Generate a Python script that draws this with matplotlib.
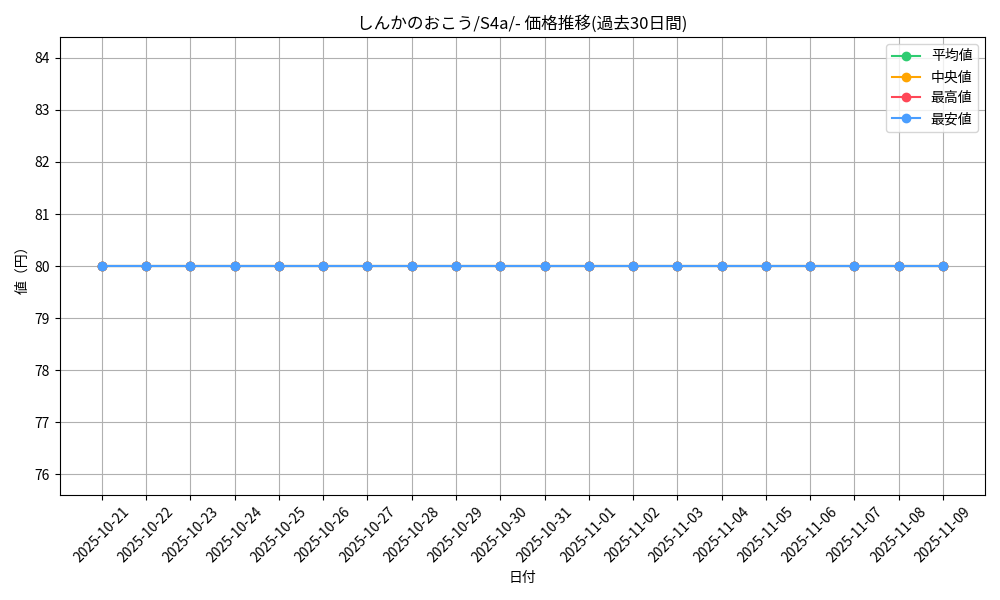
import matplotlib
matplotlib.use('Agg')
import matplotlib.pyplot as plt

plt.rcParams['font.family'] = ['Noto Sans CJK JP', 'DejaVu Sans']

# data
dates = ['2025-10-21', '2025-10-22', '2025-10-23', '2025-10-24', '2025-10-25',
         '2025-10-26', '2025-10-27', '2025-10-28', '2025-10-29', '2025-10-30',
         '2025-10-31', '2025-11-01', '2025-11-02', '2025-11-03', '2025-11-04',
         '2025-11-05', '2025-11-06', '2025-11-07', '2025-11-08', '2025-11-09']
avg_price = [80] * 20
median_price = [80] * 20
max_price = [80] * 20
min_price = [80] * 20

fig, ax = plt.subplots(figsize=(10, 6), dpi=100)

ax.plot(dates, avg_price, marker='o', color='#2ecc71', label='平均値')
ax.plot(dates, median_price, marker='o', color='#ffa502', label='中央値')
ax.plot(dates, max_price, marker='o', color='#ff4757', label='最高値')
ax.plot(dates, min_price, marker='o', color='#4a9eff', label='最安値')

ax.set_title('しんかのおこう/S4a/- 価格推移(過去30日間)')
ax.set_xlabel('日付')
ax.set_ylabel('値（円）')
ax.legend()
ax.grid(True)
plt.xticks(rotation=45)
plt.tight_layout()
fig.savefig('out.png')
